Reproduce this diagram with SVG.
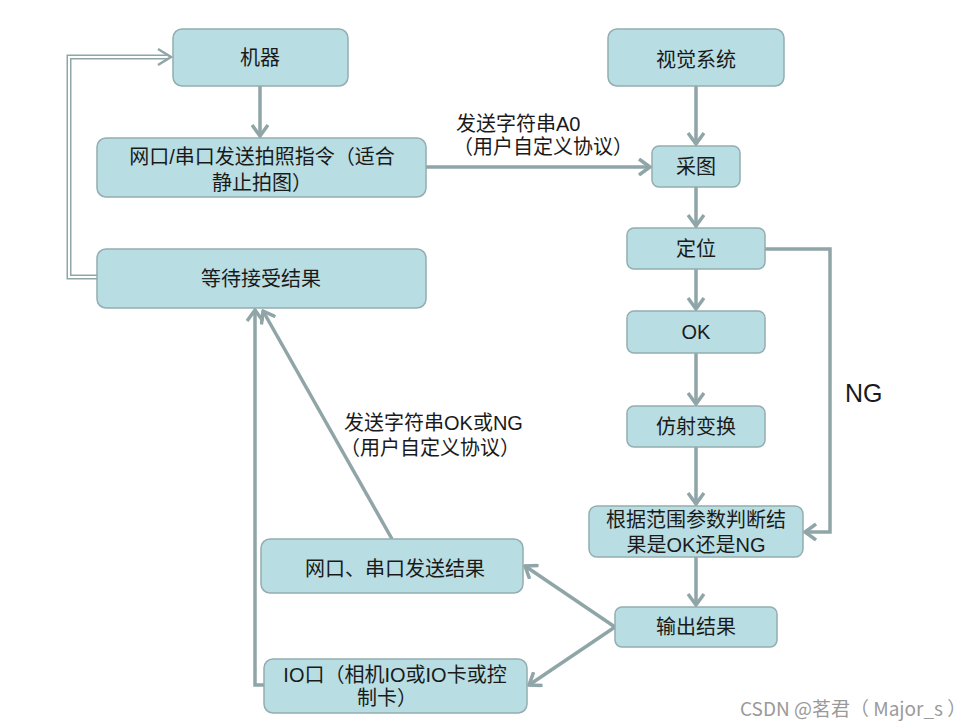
<svg xmlns="http://www.w3.org/2000/svg" width="971" height="728" viewBox="0 0 971 728">
<style>
.box{fill:#b8dde2;stroke:#93adb0;stroke-width:1.5}
.t{font-family:"Liberation Sans","Noto Sans CJK SC",sans-serif;font-size:20px;fill:#1a1a1a;text-anchor:middle;dominant-baseline:central}
.lbl{font-family:"Liberation Sans","Noto Sans CJK SC",sans-serif;font-size:20px;fill:#1a1a1a;dominant-baseline:central}
.c{fill:none;stroke:#8fa5a7;stroke-width:3.5}
.wm{font-family:"Noto Sans CJK SC","Liberation Sans",sans-serif;font-size:19px;fill:#9a9a9a;dominant-baseline:central}
</style>
<defs>
<marker id="ah" markerUnits="userSpaceOnUse" viewBox="0 0 14 18" refX="12" refY="9" markerWidth="14" markerHeight="18" orient="auto">
<path d="M1,1 L12,9 L1,17" fill="none" stroke="#8fa5a7" stroke-width="3.5"/>
</marker>
</defs>
<rect width="971" height="728" fill="#ffffff"/>
<g id="connectors">
<line class="c" x1="260" y1="86" x2="260" y2="136" marker-end="url(#ah)"/>
<line class="c" x1="426" y1="167" x2="650" y2="167" marker-end="url(#ah)"/>
<line class="c" x1="696" y1="86" x2="696" y2="144" marker-end="url(#ah)"/>
<line class="c" x1="696" y1="187" x2="696" y2="226" marker-end="url(#ah)"/>
<line class="c" x1="696" y1="269" x2="696" y2="309" marker-end="url(#ah)"/>
<line class="c" x1="696" y1="353" x2="696" y2="404" marker-end="url(#ah)"/>
<line class="c" x1="696" y1="447" x2="696" y2="504" marker-end="url(#ah)"/>
<line class="c" x1="696" y1="557" x2="696" y2="605" marker-end="url(#ah)"/>
<polyline class="c" points="765,249 830,249 830,532 805,532" marker-end="url(#ah)"/>
<line class="c" x1="615" y1="627" x2="525" y2="566" marker-end="url(#ah)"/>
<line class="c" x1="615" y1="627" x2="529" y2="685" marker-end="url(#ah)"/>
<line class="c" x1="392" y1="539" x2="263" y2="311" marker-end="url(#ah)"/>
<polyline class="c" points="264,685 255,685 255,310" marker-end="url(#ah)"/>
<polyline points="97,277 69,277 69,57 168,57" fill="none" stroke="#8fa5a7" stroke-width="5"/>
<polyline points="97,277 69,277 69,57 168,57" fill="none" stroke="#ffffff" stroke-width="2"/>
<path d="M158,49 L171,57 L158,65" fill="none" stroke="#8fa5a7" stroke-width="2.5"/>
</g>
<g id="n-jiqi"><rect class="box" x="173" y="29" width="175" height="57" rx="9"/><text class="t" x="260" y="58">机器</text></g>
<g id="n-send-cmd"><rect class="box" x="97" y="138" width="329" height="59" rx="9"/><text class="t" x="262" y="157">网口/串口发送拍照指令（适合</text><text class="t" x="262" y="183">静止拍图）</text></g>
<g id="n-wait"><rect class="box" x="97" y="249" width="329" height="59" rx="9"/><text class="t" x="261" y="279">等待接受结果</text></g>
<g id="n-vision"><rect class="box" x="608" y="29" width="176" height="57" rx="9"/><text class="t" x="696" y="60">视觉系统</text></g>
<g id="n-grab"><rect class="box" x="652" y="146" width="88" height="41" rx="7"/><text class="t" x="696" y="167">采图</text></g>
<g id="n-locate"><rect class="box" x="627" y="228" width="138" height="41" rx="7"/><text class="t" x="696" y="249">定位</text></g>
<g id="n-ok"><rect class="box" x="627" y="311" width="138" height="42" rx="7"/><text class="t" x="696" y="332">OK</text></g>
<g id="n-affine"><rect class="box" x="627" y="406" width="138" height="41" rx="7"/><text class="t" x="696" y="427">仿射变换</text></g>
<g id="n-judge"><rect class="box" x="589" y="506" width="214" height="51" rx="8"/><text class="t" x="696" y="520">根据范围参数判断结</text><text class="t" x="696" y="545">果是OK还是NG</text></g>
<g id="n-output"><rect class="box" x="615" y="607" width="162" height="40" rx="7"/><text class="t" x="696" y="627">输出结果</text></g>
<g id="n-net-result"><rect class="box" x="261" y="539" width="262" height="54" rx="9"/><text class="t" x="395" y="569">网口、串口发送结果</text></g>
<g id="n-io"><rect class="box" x="264" y="659" width="263" height="54" rx="9"/><text class="t" x="395" y="675">IO口（相机IO或IO卡或控</text><text class="t" x="387" y="698">制卡）</text></g>
<g id="labels">
<text class="lbl" x="456" y="124">发送字符串A0</text>
<text class="lbl" x="453" y="147">（用户自定义协议）</text>
<text class="lbl" x="344" y="423">发送字符串OK或NG</text>
<text class="lbl" x="340" y="448">（用户自定义协议）</text>
<text class="lbl" x="845" y="393" style="font-size:25px">NG</text>
<text class="wm" x="740" y="707">CSDN @茗君（ Major_s ）</text>
</g>
</svg>
